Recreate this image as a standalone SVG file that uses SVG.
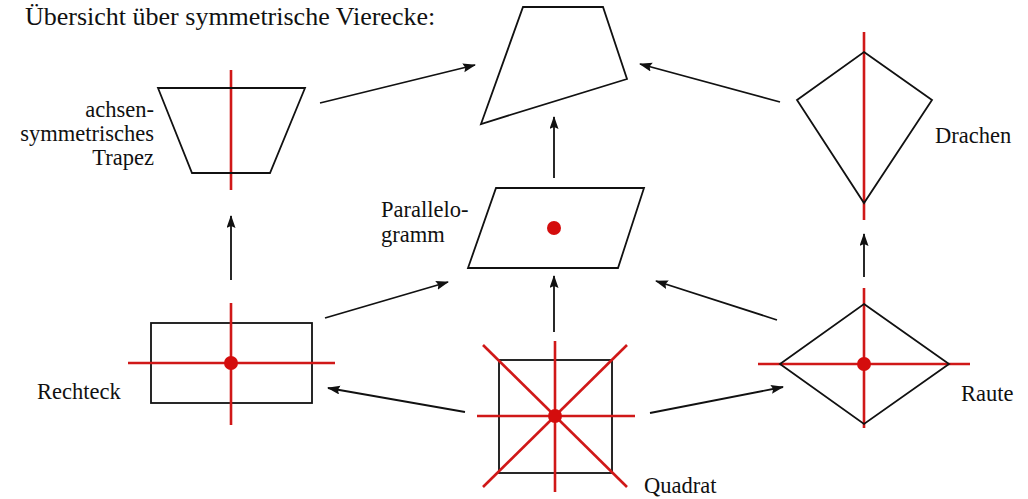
<svg xmlns="http://www.w3.org/2000/svg" width="1028" height="499" viewBox="0 0 1028 499">
<style>
.bg{fill:#ffffff}
.shape{fill:none;stroke:#111;stroke-width:1.8;stroke-linejoin:miter}
.axis{stroke:#d01818;stroke-width:2.6;fill:none}
.dot{fill:#d40d0d}
.lbl{font-family:"Liberation Serif","Times New Roman",serif;font-size:22.5px;fill:#111}
.title{font-family:"Liberation Serif","Times New Roman",serif;font-size:26px;fill:#111}
.conn{stroke:#111;stroke-width:1.8;fill:none;marker-end:url(#ah)}
</style>
<defs>
<marker id="ah" markerUnits="userSpaceOnUse" markerWidth="13" markerHeight="10" refX="12" refY="4.5" orient="auto">
<path d="M0,0 L13,4.5 L0,9 L2,4.5 z" fill="#111"/>
</marker>
</defs>
<rect class="bg" x="0" y="0" width="1028" height="499"/>
<text class="title" x="25" y="25">Übersicht über symmetrische Vierecke:</text>

<g id="viereck">
<polygon class="shape" points="523,7 603,7 627,79 481,124"/>
</g>

<g id="trapez">
<line class="axis" x1="231" y1="70" x2="231" y2="190"/>
<polygon class="shape" points="158,88 305,88 270,173 192,173"/>
<text class="lbl" x="154" y="117" text-anchor="end">achsen-</text>
<text class="lbl" x="154" y="141" text-anchor="end">symmetrisches</text>
<text class="lbl" x="154" y="165" text-anchor="end">Trapez</text>
</g>

<g id="drachen">
<line class="axis" x1="864" y1="32" x2="864" y2="220"/>
<polygon class="shape" points="864,52 932,100 864,203 797,100"/>
<text class="lbl" x="935" y="143">Drachen</text>
</g>

<g id="parallelogramm">
<polygon class="shape" points="496,188 644,188 618,268 468,268"/>
<circle class="dot" cx="554" cy="228" r="7"/>
<text class="lbl" x="381" y="217">Parallelo-</text>
<text class="lbl" x="381" y="242">gramm</text>
</g>

<g id="rechteck">
<rect class="shape" x="151" y="323" width="161" height="80"/>
<line class="axis" x1="231" y1="303" x2="231" y2="425"/>
<line class="axis" x1="128" y1="363" x2="335" y2="363"/>
<circle class="dot" cx="231" cy="363" r="7"/>
<text class="lbl" x="37" y="399">Rechteck</text>
</g>

<g id="quadrat">
<rect class="shape" x="499" y="360" width="113" height="113"/>
<line class="axis" x1="555" y1="341" x2="555" y2="492"/>
<line class="axis" x1="477" y1="416" x2="635" y2="416"/>
<line class="axis" x1="483" y1="345" x2="627" y2="487"/>
<line class="axis" x1="627" y1="345" x2="483" y2="487"/>
<circle class="dot" cx="555" cy="416" r="7"/>
<text class="lbl" x="644" y="493">Quadrat</text>
</g>

<g id="raute">
<line class="axis" x1="864" y1="288" x2="864" y2="428"/>
<line class="axis" x1="758" y1="364" x2="970" y2="364"/>
<polygon class="shape" points="864,304 949,364 864,424 780,364"/>
<circle class="dot" cx="864" cy="364" r="7"/>
<text class="lbl" x="961" y="401">Raute</text>
</g>

<g id="connectors">
<line class="conn" x1="320" y1="103" x2="475" y2="65"/>
<line class="conn" x1="780" y1="102" x2="640" y2="64"/>
<line class="conn" x1="554" y1="178" x2="554" y2="117"/>
<line class="conn" x1="231" y1="280" x2="231" y2="216"/>
<line class="conn" x1="325" y1="318" x2="448" y2="282"/>
<line class="conn" x1="777" y1="320" x2="656" y2="281"/>
<line class="conn" x1="554" y1="332" x2="554" y2="276"/>
<line class="conn" x1="465" y1="412" x2="328" y2="388"/>
<line class="conn" x1="650" y1="413" x2="783" y2="387"/>
<line class="conn" x1="864" y1="277" x2="864" y2="234"/>
</g>
</svg>
